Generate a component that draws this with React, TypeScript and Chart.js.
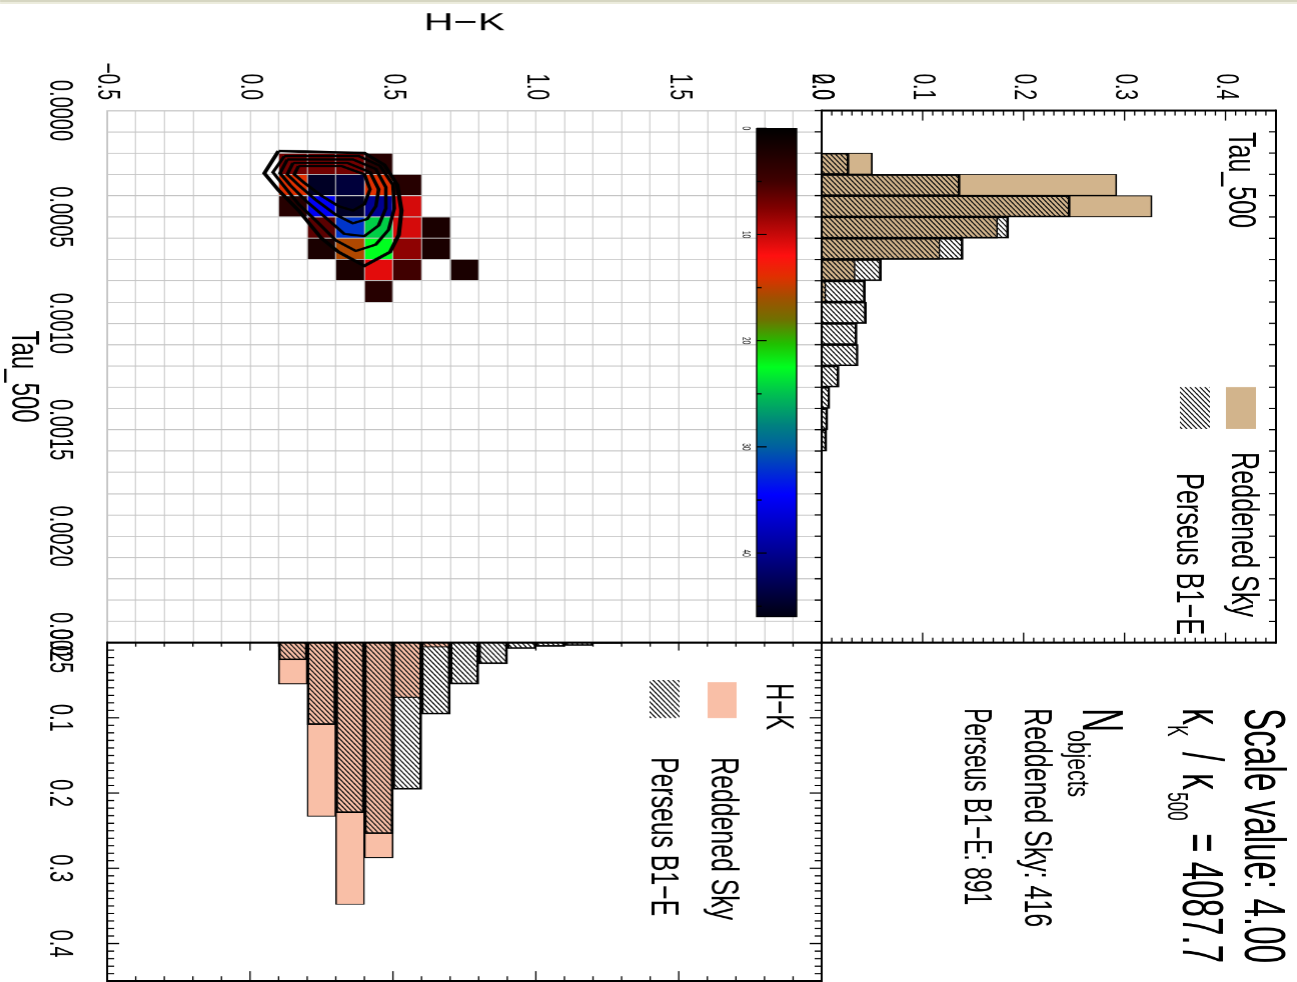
import React, { useEffect, useRef } from 'react';
import { Chart, registerables } from 'chart.js';

Chart.register(...registerables);

// ---------------- data ----------------
const TAU_BIN = 0.0001;
const HK_BIN = 0.1;

const tauBinCenters = [0.00005, 0.00015, 0.00025, 0.00035, 0.00045, 0.00055, 0.00065, 0.00075, 0.00085, 0.00095, 0.00105, 0.00115, 0.00125, 0.00135, 0.00145, 0.00155, 0.00165, 0.00175, 0.00185, 0.00195, 0.00205, 0.00215, 0.00225, 0.00235, 0.00245];
const tauReddened = [0, 0, 0.050, 0.292, 0.327, 0.174, 0.117, 0.033, 0.004, 0, 0, 0, 0, 0, 0, 0, 0, 0, 0, 0, 0, 0, 0, 0, 0];
const tauPerseus = [0, 0, 0.027, 0.137, 0.246, 0.185, 0.140, 0.059, 0.043, 0.044, 0.035, 0.036, 0.017, 0.008, 0.006, 0.005, 0, 0, 0, 0, 0, 0, 0, 0, 0];

const hkBinCenters = [-0.45, -0.35, -0.25, -0.15, -0.05, 0.05, 0.15, 0.25, 0.35, 0.45, 0.55, 0.65, 0.75, 0.85, 0.95, 1.05, 1.15, 1.25, 1.35, 1.45, 1.55, 1.65, 1.75, 1.85, 1.95];
const hkReddened = [0, 0, 0, 0, 0, 0, 0.055, 0.231, 0.348, 0.286, 0.073, 0.006, 0, 0, 0, 0, 0, 0, 0, 0, 0, 0, 0, 0, 0];
const hkPerseus = [0, 0, 0, 0, 0, 0, 0.023, 0.109, 0.226, 0.254, 0.195, 0.095, 0.055, 0.028, 0.008, 0.005, 0.004, 0.001, 0, 0, 0, 0, 0, 0, 0];

// 2D histogram cells (lower-left corner of each bin) and counts
const cellTau = [0.0002, 0.0002, 0.0002, 0.0002, 0.0003, 0.0003, 0.0003, 0.0003, 0.0003, 0.0004, 0.0004, 0.0004, 0.0004, 0.0004, 0.0005, 0.0005, 0.0005, 0.0005, 0.0005, 0.0006, 0.0006, 0.0006, 0.0006, 0.0006, 0.0007, 0.0007, 0.0007, 0.0007, 0.0008];
const cellHK = [0.1, 0.2, 0.3, 0.4, 0.1, 0.2, 0.3, 0.4, 0.5, 0.1, 0.2, 0.3, 0.4, 0.5, 0.2, 0.3, 0.4, 0.5, 0.6, 0.2, 0.3, 0.4, 0.5, 0.6, 0.3, 0.4, 0.5, 0.7, 0.4];
const cellCount = [7, 7, 7, 3, 14, 45, 44, 14, 3, 3, 35, 45, 40, 10.5, 6, 32, 24.5, 10.5, 2, 2, 15.5, 22.5, 8, 2, 2, 11, 5, 2, 3];

// contour polygons [tau, H-K]
const contour1 = [[0.000190, 0.10], [0.000200, 0.40], [0.000255, 0.47], [0.000350, 0.515], [0.000470, 0.53], [0.000585, 0.52], [0.000665, 0.49], [0.000730, 0.40], [0.000665, 0.31], [0.000600, 0.25], [0.000470, 0.17], [0.000375, 0.10], [0.000295, 0.05], [0.000190, 0.10]];
const contour2 = [[0.000214, 0.12], [0.000214, 0.38], [0.000260, 0.455], [0.000350, 0.50], [0.000460, 0.505], [0.000560, 0.485], [0.000630, 0.44], [0.000660, 0.37], [0.000610, 0.30], [0.000530, 0.24], [0.000440, 0.17], [0.000340, 0.11], [0.000290, 0.08], [0.000214, 0.12]];
const contour3 = [[0.000230, 0.13], [0.000230, 0.36], [0.000275, 0.44], [0.000360, 0.475], [0.000460, 0.475], [0.000540, 0.45], [0.000590, 0.40], [0.000580, 0.33], [0.000510, 0.27], [0.000430, 0.20], [0.000350, 0.14], [0.000295, 0.105], [0.000230, 0.13]];
const contour4 = [[0.000246, 0.15], [0.000246, 0.34], [0.000290, 0.42], [0.000370, 0.45], [0.000450, 0.44], [0.000510, 0.41], [0.000530, 0.36], [0.000490, 0.30], [0.000420, 0.23], [0.000350, 0.17], [0.000300, 0.13], [0.000246, 0.15]];
const contour5 = [[0.000261, 0.17], [0.000261, 0.32], [0.000300, 0.40], [0.000370, 0.42], [0.000440, 0.40], [0.000470, 0.36], [0.000450, 0.31], [0.000400, 0.25], [0.000340, 0.19], [0.000300, 0.155], [0.000261, 0.17]];
const contours = [contour1, contour2, contour3, contour4, contour5];

// tick labels
const tauTickLabels = ['0.0000', '0.0005', '0.0010', '0.0015', '0.0020', '0.0025'];
const hkTickLabels = ['\u22120.5', '0.0', '0.5', '1.0', '1.5', '2.0'];
const fracTickLabels = ['0.0', '0.1', '0.2', '0.3', '0.4'];
const cbTickValues = [0, 10, 20, 30, 40];
const cbTickLabels = ['0', '10', '20', '30', '40'];
const CB_MAX = 46;

// colour table
const cmapStops = [0, 5, 7.5, 12, 14, 16, 18, 20.3, 22.5, 25, 28, 30, 34.5, 40, 46];
const cmapColors = ['#000000', '#400000', '#800000', '#ff1010', '#e03000', '#a05000', '#707000', '#20c000', '#00ff20', '#00c050', '#008080', '#0060a0', '#0000ff', '#000090', '#000010'];

// ---------------- layout / style ----------------
const S = 1.65; // vertical stretch of the (unrotated) figure
const W = 982;
const H = 786;
const U_L = 110.5, U_M = 642.5, U_R = 981;
const V_T = 21, V_M = 475, V_B = 1189;
const lv = (v: number) => v / S;
const SANS = "'Liberation Sans', Arial, Helvetica, sans-serif";
const GRID = '#c4c4c4';
const TAN = '#D2B48C';
const SALMON = '#F9BFA7';

function hexRgb(h: string) {
  return [parseInt(h.slice(1, 3), 16), parseInt(h.slice(3, 5), 16), parseInt(h.slice(5, 7), 16)];
}
function cmap(v: number) {
  const x = Math.max(0, Math.min(CB_MAX, v));
  let i = 0;
  while (i < cmapStops.length - 2 && x > cmapStops[i + 1]) i++;
  const t = (x - cmapStops[i]) / (cmapStops[i + 1] - cmapStops[i]);
  const a = hexRgb(cmapColors[i]);
  const b = hexRgb(cmapColors[i + 1]);
  const c = a.map((av, k) => Math.round(av + (b[k] - av) * t));
  return `rgb(${c[0]},${c[1]},${c[2]})`;
}

function makeHatch() {
  const R = 4, TW = 10, TH = 6;
  const c = document.createElement('canvas');
  c.width = TW * R;
  c.height = TH * R;
  const g = c.getContext('2d')!;
  g.strokeStyle = '#111';
  g.lineWidth = 0.9 * R;
  const dx = TW / TH;
  for (let x0 = -10; x0 <= 30; x0 += 5) {
    g.beginPath();
    g.moveTo((x0 + dx) * R, -1 * R);
    g.lineTo((x0 - TW - dx) * R, (TH + 1) * R);
    g.stroke();
  }
  const p = g.createPattern(c, 'repeat')!;
  if (p && (p as any).setTransform) (p as any).setTransform(new DOMMatrix([1 / R, 0, 0, 1 / R, 0, 0]));
  return p;
}

function T(ctx: CanvasRenderingContext2D, s: string, u: number, vScreen: number, size: number, opts: any = {}) {
  ctx.save();
  ctx.font = `${size}px ${SANS}`;
  const nat = ctx.measureText(s).width;
  const sx = opts.width ? opts.width / nat : (opts.sx ?? 1);
  ctx.translate(u, vScreen / S);
  ctx.scale(sx, 1);
  ctx.fillStyle = '#000';
  ctx.textBaseline = 'alphabetic';
  ctx.textAlign = opts.align ?? 'left';
  ctx.fillText(s, 0, 0);
  ctx.restore();
}

function line(ctx: CanvasRenderingContext2D, x0: number, y0: number, x1: number, y1: number) {
  ctx.beginPath();
  ctx.moveTo(x0, y0);
  ctx.lineTo(x1, y1);
  ctx.stroke();
}

function box(ctx: CanvasRenderingContext2D, a: any) {
  ctx.lineWidth = 1.2;
  line(ctx, a.left - 1, a.top, a.right + 1, a.top);
  line(ctx, a.left - 1, a.bottom, a.right + 1, a.bottom);
  ctx.lineWidth = 2;
  line(ctx, a.left, a.top, a.left, a.bottom);
  line(ctx, a.right, a.top, a.right, a.bottom);
}

const zero = (s: any) => { s.paddingLeft = 0; s.paddingRight = 0; s.paddingTop = 0; s.paddingBottom = 0; };
const tickFont = { family: SANS, size: 19 };
const xTickFont = { family: SANS, size: 20 };
const tauLabel = (v: any) => { const k = Math.round(Number(v) / TAU_BIN); return k % 5 === 0 ? tauTickLabels[k / 5] : ''; };
const hkLabel = (v: any) => { const k = Math.round((Number(v) + 0.5) / HK_BIN); return k % 5 === 0 ? hkTickLabels[k / 5] : ''; };
const fracLabel = (v: any) => fracTickLabels[Math.round(Number(v) / 0.1)] ?? '';

const baseOpts = {
  animation: false,
  responsive: false,
  devicePixelRatio: S,
  events: [],
  plugins: { legend: { display: false }, tooltip: { enabled: false } },
};

// ---------------- main panel ----------------
const mainDeco = {
  id: 'mainDeco',
  beforeDraw(chart: any) {
    const { ctx } = chart;
    const xs = chart.scales.x, ys = chart.scales.y;
    ctx.save();
    for (let i = 0; i < cellCount.length; i++) {
      const x0 = xs.getPixelForValue(cellTau[i]);
      const x1 = xs.getPixelForValue(cellTau[i] + TAU_BIN);
      const y0 = ys.getPixelForValue(cellHK[i]);
      const y1 = ys.getPixelForValue(cellHK[i] + HK_BIN);
      ctx.fillStyle = cmap(cellCount[i]);
      ctx.fillRect(Math.min(x0, x1), Math.min(y0, y1), Math.abs(x1 - x0), Math.abs(y1 - y0));
    }
    ctx.restore();
  },
  afterDraw(chart: any) {
    const { ctx } = chart;
    const u0 = 128.3, u1 = 616.7;
    const v0 = lv(500), v1 = lv(540);
    const cu = (val: number) => u0 + (val / CB_MAX) * (u1 - u0);
    ctx.save();
    const grad = ctx.createLinearGradient(u0, 0, u1, 0);
    cmapStops.forEach((s, i) => grad.addColorStop(s / CB_MAX, cmapColors[i]));
    ctx.fillStyle = grad;
    ctx.fillRect(u0, v0, u1 - u0, v1 - v0);
    ctx.strokeStyle = '#000';
    ctx.lineWidth = 0.8;
    ctx.strokeRect(u0, v0, u1 - u0, v1 - v0);
    ctx.lineWidth = 1.2;
    for (let k = 0; k <= 9; k++) {
      const val = k * 5;
      const len = k % 2 === 0 ? 10 : 5;
      line(ctx, cu(val), v1, cu(val), v1 - len / S);
    }
    cbTickValues.forEach((val, i) => T(ctx, cbTickLabels[i], cu(val), 554, 6.5, { align: 'center' }));
    ctx.restore();
  },
};

function mainConfig(): any {
  return {
    type: 'scatter',
    data: {
      datasets: contours.map((c, i) => ({
        data: c.map((p) => ({ x: p[0], y: p[1] })),
        showLine: true,
        borderColor: '#000',
        borderWidth: i === 0 ? 2.6 : 2.2,
        pointRadius: 0,
        fill: false,
        tension: 0,
      })),
    },
    options: {
      ...baseOpts,
      layout: { padding: { left: 0, right: W - U_M, top: lv(V_M), bottom: 0 } },
      scales: {
        x: {
          type: 'linear', position: 'bottom', min: 0, max: 0.0025, bounds: 'data',
          ticks: { stepSize: TAU_BIN, autoSkip: false, maxRotation: 0, minRotation: 0, padding: 17, color: '#000', font: xTickFont, callback: tauLabel },
          grid: { color: GRID, lineWidth: 1, drawTicks: false },
          border: { display: true, color: GRID, width: 1 },
          title: { display: true, text: 'Tau_500', color: '#000', font: { family: SANS, size: 24 }, padding: 0 },
          afterFit: (s: any) => { s.height = H - lv(V_B); zero(s); },
        },
        y: {
          type: 'linear', position: 'left', min: -0.5, max: 2.0, bounds: 'data',
          ticks: { stepSize: HK_BIN, autoSkip: false, padding: 10.5, color: '#000', font: tickFont, callback: hkLabel },
          grid: { color: GRID, lineWidth: 0.65, drawTicks: false },
          border: { display: true, color: GRID, width: 0.65 },
          title: { display: true, text: 'H\u2212K', color: '#000', font: { family: SANS, size: 25 }, padding: { top: 8.5, bottom: 0 } },
          afterFit: (s: any) => { s.width = U_L; zero(s); },
        },
      },
    },
    plugins: [mainDeco],
  };
}

// ---------------- top panel (Tau_500 histogram) ----------------
function topConfig(hatch: any): any {
  const deco = {
    id: 'topDeco',
    afterDraw(chart: any) {
      const { ctx, chartArea: a } = chart;
      const xs = chart.scales.x, ys = chart.scales.y;
      ctx.save();
      ctx.strokeStyle = '#000';
      box(ctx, a);
      ctx.lineWidth = 0.8;
      for (let k = 0; k <= 45; k++) {
        const py = ys.getPixelForValue(k / 100);
        const len = k % 10 === 0 ? 10 : 5;
        line(ctx, a.left, py, a.left + len, py);
        line(ctx, a.right, py, a.right - len, py);
      }
      ctx.lineWidth = 1.2;
      for (let k = 0; k <= 25; k++) {
        const px = xs.getPixelForValue(k * TAU_BIN);
        line(ctx, px, a.top, px, a.top + 7 / S);
        line(ctx, px, a.bottom, px, a.bottom + 7 / S);
      }
      T(ctx, 'Tau_500', 132, 68, 24, { width: 96 });
      ctx.fillStyle = TAN;
      ctx.fillRect(387, lv(41), 42, lv(71) - lv(41));
      T(ctx, 'Reddened Sky', 452, 65, 24, { width: 165 });
      ctx.fillStyle = hatch;
      ctx.fillRect(387, lv(87), 42, lv(117) - lv(87));
      T(ctx, 'Perseus B1\u2212E', 473, 120, 24, { width: 162 });
      ctx.restore();
    },
  };
  const common = { borderColor: '#000', borderWidth: 1, grouped: false, barPercentage: 1, categoryPercentage: 1 };
  return {
    type: 'bar',
    data: {
      datasets: [
        { ...common, label: 'Perseus B1\u2212E', order: 1, backgroundColor: hatch, data: tauBinCenters.map((c, i) => ({ x: c, y: tauPerseus[i] || null })) },
        { ...common, label: 'Reddened Sky', order: 2, backgroundColor: TAN, data: tauBinCenters.map((c, i) => ({ x: c, y: tauReddened[i] || null })) },
      ],
    },
    options: {
      ...baseOpts,
      layout: { padding: { left: 0, right: W - U_M, top: lv(V_T), bottom: H - lv(V_M) } },
      scales: {
        x: { type: 'linear', min: 0, max: 0.0025, bounds: 'data', offset: false, display: false, ticks: { stepSize: TAU_BIN } },
        y: {
          type: 'linear', position: 'left', min: 0, max: 0.45, bounds: 'data',
          ticks: { stepSize: 0.1, includeBounds: false, autoSkip: false, padding: 10.5, color: '#000', font: tickFont, callback: fracLabel },
          grid: { display: false, drawTicks: false },
          border: { display: false },
          afterFit: (s: any) => { s.width = U_L; zero(s); },
        },
      },
    },
    plugins: [deco],
  };
}

// ---------------- right panel (H-K histogram) + text ----------------
function rightConfig(hatch: any): any {
  const deco = {
    id: 'rightDeco',
    afterDraw(chart: any) {
      const { ctx, chartArea: a } = chart;
      const xs = chart.scales.x, ys = chart.scales.y;
      ctx.save();
      ctx.strokeStyle = '#000';
      box(ctx, a);
      ctx.lineWidth = 1.2;
      for (let k = 0; k <= 45; k++) {
        const px = xs.getPixelForValue(k / 100);
        const len = (k % 10 === 0 ? 12 : 7) / S;
        line(ctx, px, a.top, px, a.top + len);
        line(ctx, px, a.bottom, px, a.bottom - len);
      }
      ctx.lineWidth = 0.8;
      for (let k = 0; k <= 25; k++) {
        const py = ys.getPixelForValue(-0.5 + k * HK_BIN);
        const major = k % 5 === 0;
        line(ctx, a.left, py, a.left + (major ? 8 : 4), py);
        line(ctx, a.right, py, a.right - (major ? 10 : 5), py);
      }
      // legend
      T(ctx, 'H\u2212K', 683, 530, 24, { width: 47 });
      ctx.fillStyle = SALMON;
      ctx.fillRect(682, lv(560), 36, lv(589) - lv(560));
      T(ctx, 'Reddened Sky', 757, 585, 24, { width: 163 });
      ctx.fillStyle = hatch;
      ctx.fillRect(680, lv(617), 38, lv(647) - lv(617));
      T(ctx, 'Perseus B1\u2212E', 757, 645, 24, { width: 159 });
      // text block
      T(ctx, 'Scale value: 4.00', 708, 52, 35, { width: 255 });
      T(ctx, '\u03ba', 708, 114, 35, { sx: 0.95 });
      T(ctx, 'K', 725, 129, 18, { sx: 0.95 });
      T(ctx, '/', 752, 114, 35, { sx: 0.95 });
      T(ctx, '\u03ba', 773, 114, 35, { sx: 0.95 });
      T(ctx, '500', 792, 129, 18, { sx: 0.95 });
      T(ctx, '= 4087.7', 833, 114, 35, { width: 130 });
      T(ctx, 'N', 708, 214, 35, { sx: 0.95 });
      T(ctx, 'objects', 730, 229, 19.5, { width: 67 });
      T(ctx, 'Reddened Sky: 416', 708, 272, 24, { width: 219 });
      T(ctx, 'Perseus B1\u2212E: 891', 708, 332, 24, { width: 197 });
      ctx.restore();
    },
  };
  const common = { borderColor: '#000', borderWidth: 1, grouped: false, barPercentage: 1, categoryPercentage: 1 };
  return {
    type: 'bar',
    data: {
      datasets: [
        { ...common, label: 'Perseus B1\u2212E', order: 1, backgroundColor: hatch, data: hkBinCenters.map((c, i) => ({ y: c, x: hkPerseus[i] || null })) },
        { ...common, label: 'Reddened Sky', order: 2, backgroundColor: SALMON, data: hkBinCenters.map((c, i) => ({ y: c, x: hkReddened[i] || null })) },
      ],
    },
    options: {
      ...baseOpts,
      indexAxis: 'y',
      layout: { padding: { left: U_M, right: W - U_R, top: lv(V_M), bottom: 0 } },
      scales: {
        y: { type: 'linear', min: -0.5, max: 2.0, bounds: 'data', offset: false, display: false, ticks: { stepSize: HK_BIN } },
        x: {
          type: 'linear', position: 'bottom', min: 0, max: 0.45, bounds: 'data',
          ticks: { stepSize: 0.1, includeBounds: false, autoSkip: false, maxRotation: 0, minRotation: 0, padding: 17, color: '#000', font: xTickFont, callback: fracLabel },
          grid: { display: false, drawTicks: false },
          border: { display: false },
          afterFit: (s: any) => { s.height = H - lv(V_B); zero(s); },
        },
      },
    },
    plugins: [deco],
  };
}

export default function App() {
  const mainRef = useRef<HTMLCanvasElement>(null);
  const topRef = useRef<HTMLCanvasElement>(null);
  const rightRef = useRef<HTMLCanvasElement>(null);

  useEffect(() => {
    const hatch = makeHatch();
    const charts = [
      new Chart(mainRef.current!, mainConfig()),
      new Chart(topRef.current!, topConfig(hatch)),
      new Chart(rightRef.current!, rightConfig(hatch)),
    ];
    return () => charts.forEach((c) => c.destroy());
  }, []);

  const cs: React.CSSProperties = { position: 'absolute', left: 0, top: 0 };
  return (
    <div
      style={{
        position: 'fixed', left: 0, top: 0, width: W, height: H,
        transformOrigin: '0 0',
        transform: `translate(1297px, 0px) rotate(90deg) scale(1, ${S})`,
        background: '#fff', overflow: 'hidden',
      }}
    >
      <div style={{ position: 'absolute', left: 0, top: 0, width: 2, height: H, background: '#d6d6c2' }} />
      <div style={{ position: 'absolute', left: 2, top: 0, width: 2, height: H, background: '#ececdd' }} />
      <canvas ref={mainRef} width={W} height={H} style={cs} />
      <canvas ref={topRef} width={W} height={H} style={cs} />
      <canvas ref={rightRef} width={W} height={H} style={cs} />
    </div>
  );
}
